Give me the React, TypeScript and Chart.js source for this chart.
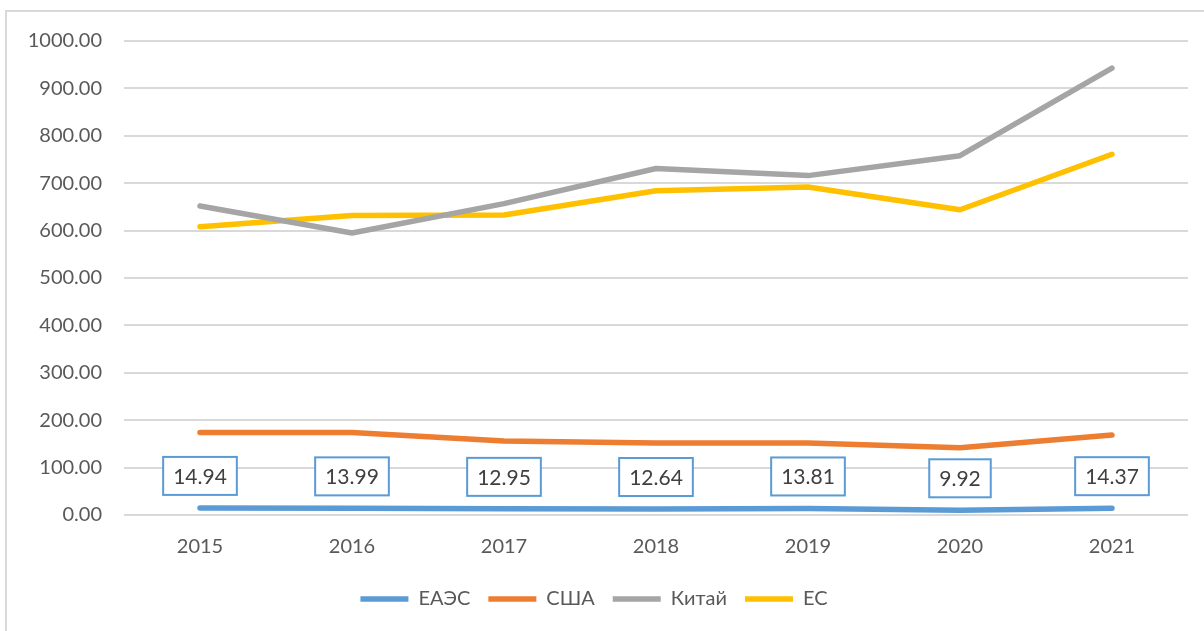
import React, { useEffect, useRef } from "react";
import { Chart, registerables } from "chart.js";

Chart.register(...registerables);

const years = ["2015", "2016", "2017", "2018", "2019", "2020", "2021"];
const eaesValues = [14.94, 13.99, 12.95, 12.64, 13.81, 9.92, 14.37];
const usaValues = [174, 174, 156, 152, 152, 142, 169];
const chinaValues = [652, 595, 657, 731, 716, 758, 943];
const euValues = [608, 632, 633, 684, 692, 644, 761];
const yTicks = [0, 100, 200, 300, 400, 500, 600, 700, 800, 900, 1000];

const FONT = "Lato, 'Open Sans', sans-serif";

const labelPlugin = {
  id: "boxLabels",
  afterDatasetsDraw(chart: any) {
    const ctx = chart.ctx;
    const meta = chart.getDatasetMeta(0);
    const data = chart.data.datasets[0].data as number[];
    ctx.save();
    ctx.font = `21px ${FONT}`;
    ctx.textAlign = "center";
    ctx.textBaseline = "middle";
    meta.data.forEach((pt: any, i: number) => {
      const text = data[i].toFixed(2);
      const tw = ctx.measureText(text).width;
      const w = tw + 20;
      const h = 38;
      const cx = pt.x;
      const cy = pt.y - 32;
      ctx.fillStyle = "#ffffff";
      ctx.fillRect(cx - w / 2, cy - h / 2, w, h);
      ctx.strokeStyle = "#5B9BD5";
      ctx.lineWidth = 2;
      ctx.strokeRect(cx - w / 2, cy - h / 2, w, h);
      ctx.fillStyle = "#404040";
      ctx.fillText(text, cx, cy + 1);
    });
    ctx.restore();
  },
};

export default function App() {
  const ref = useRef<HTMLCanvasElement>(null);
  useEffect(() => {
    if (!ref.current) return;
    const mk = (label: string, data: number[], color: string) => ({
      label,
      data,
      borderColor: color,
      backgroundColor: color,
      borderWidth: 5.5,
      borderCapStyle: "round" as const,
      borderJoinStyle: "round" as const,
      pointRadius: 0,
      pointHoverRadius: 0,
      pointStyle: "line" as const,
      tension: 0,
    });
    const chart = new Chart(ref.current, {
      type: "line",
      data: {
        labels: years,
        datasets: [
          mk("ЕАЭС", eaesValues, "#5B9BD5"),
          mk("США", usaValues, "#ED7D31"),
          mk("Китай", chinaValues, "#A5A5A5"),
          mk("ЕС", euValues, "#FFC000"),
        ],
      },
      options: {
        animation: false,
        responsive: false,
        maintainAspectRatio: false,
        layout: { padding: { top: 41, right: 16, bottom: 12, left: 0 } },
        plugins: {
          tooltip: { enabled: false },
          legend: {
            position: "bottom",
            labels: {
              usePointStyle: true,
              pointStyleWidth: 48,
              boxWidth: 48,
              boxHeight: 18,
              padding: 18,
              color: "#595959",
              font: { family: FONT, size: 20 },
            },
          },
        },
        scales: {
          x: {
            offset: true,
            grid: { display: false, drawTicks: false },
            border: { display: false },
            ticks: {
              color: "#595959",
              font: { family: FONT, size: 20 },
              padding: 20,
            },
            afterFit(scale: any) {
              scale.height = 56;
            },
          },
          y: {
            min: 0,
            max: 1000,
            afterBuildTicks(scale: any) {
              scale.ticks = yTicks.map((v) => ({ value: v }));
            },
            grid: { color: "#D9D9D9", lineWidth: 2, drawTicks: false },
            border: { display: false },
            ticks: {
              color: "#595959",
              font: { family: FONT, size: 20 },
              padding: 22,
              callback: (v: any) => Number(v).toFixed(2),
            },
            afterFit(scale: any) {
              scale.width = 124;
            },
          },
        },
      },
      plugins: [labelPlugin],
    });
    return () => chart.destroy();
  }, []);
  return (
    <div style={{ position: "fixed", left: 0, top: 0, width: 1204, height: 631, background: "#fff", overflow: "hidden" }}>
      <div
        style={{
          position: "absolute",
          left: 5,
          top: 10,
          width: 1220,
          height: 660,
          border: "2px solid #D9D9D9",
          boxSizing: "border-box",
        }}
      />
      <canvas ref={ref} width={1204} height={631} style={{ position: "absolute", left: 0, top: 0, width: 1204, height: 631 }} />
    </div>
  );
}
